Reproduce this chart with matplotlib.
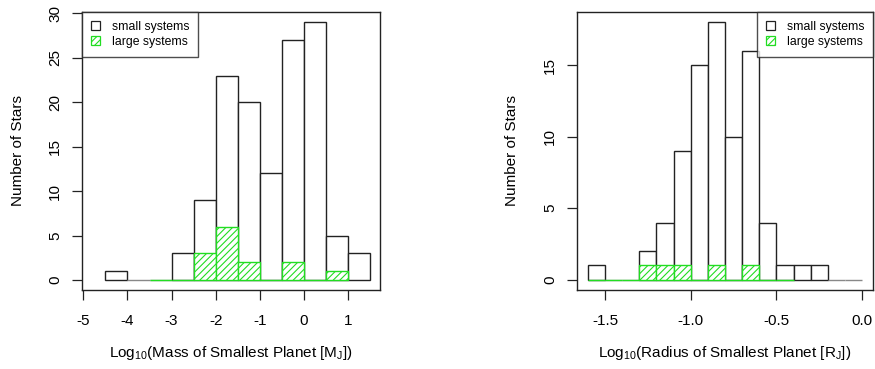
import matplotlib
matplotlib.use('Agg')
import matplotlib.pyplot as plt
from matplotlib.patches import Patch
import numpy as np

plt.rcParams['font.family'] = ['Liberation Sans', 'DejaVu Sans']
plt.rcParams['mathtext.fontset'] = 'custom'
plt.rcParams['mathtext.rm'] = 'Liberation Sans'
plt.rcParams['mathtext.it'] = 'Liberation Sans:italic'
plt.rcParams['hatch.linewidth'] = 0.8
plt.rcParams['hatch.color'] = '#22dd22'

# ---- data ----
mass_edges = [-4.5, -4.0, -3.5, -3.0, -2.5, -2.0, -1.5, -1.0, -0.5, 0.0, 0.5, 1.0, 1.5]
mass_small = [1, 0, 0, 3, 9, 23, 20, 12, 27, 29, 5, 3]
mass_large_edges = [-3.5, -3.0, -2.5, -2.0, -1.5, -1.0, -0.5, 0.0, 0.5, 1.0]
mass_large = [0, 0, 3, 6, 2, 0, 2, 0, 1]

radius_edges = [-1.6, -1.5, -1.4, -1.3, -1.2, -1.1, -1.0, -0.9, -0.8, -0.7,
                -0.6, -0.5, -0.4, -0.3, -0.2, -0.1, 0.0]
radius_small = [1, 0, 0, 2, 4, 9, 15, 18, 10, 16, 4, 1, 1, 1, 0, 0]
radius_large_edges = [-1.6, -1.5, -1.4, -1.3, -1.2, -1.1, -1.0, -0.9, -0.8, -0.7,
                      -0.6, -0.5, -0.4]
radius_large = [0, 0, 0, 1, 1, 1, 0, 1, 0, 1, 0, 0]

mass_xticks = [-5, -4, -3, -2, -1, 0, 1]
mass_xticklabels = ['-5', '-4', '-3', '-2', '-1', '0', '1']
mass_yticks = [0, 5, 10, 15, 20, 25, 30]
radius_xticks = [-1.5, -1.0, -0.5, 0.0]
radius_xticklabels = ['-1.5', '-1.0', '-0.5', '0.0']
radius_yticks = [0, 5, 10, 15]

legend_labels = ['small systems', 'large systems']
ylabel = 'Number of Stars'
mass_xlabel = r'Log$_{\mathregular{10}}$(Mass of Smallest Planet [M$_{\mathregular{J}}$])'
radius_xlabel = r'Log$_{\mathregular{10}}$(Radius of Smallest Planet [R$_{\mathregular{J}}$])'

GREEN = '#22dd22'
DARK = '#222222'
W, H = 875, 369

fig = plt.figure(figsize=(W / 100, H / 100), dpi=100)

def px_axes(l, r, t, b):
    return fig.add_axes([l / W, 1 - b / H, (r - l) / W, (b - t) / H])

ax1 = px_axes(82, 380, 12, 290)
ax2 = px_axes(577, 873, 12, 290)


def draw_hist(ax, edges, small, ledges, large):
    e = np.asarray(edges)
    le = np.asarray(ledges)
    ecs = [DARK if v > 0 else '#888888' for v in small]
    ax.bar(e[:-1], small, width=np.diff(e), align='edge', facecolor='white',
           edgecolor=ecs, linewidth=1.0, zorder=2)
    ax.bar(le[:-1], large, width=np.diff(le), align='edge', facecolor='white',
           edgecolor=GREEN, hatch='/////', linewidth=1.0, zorder=3)


def style(ax, xlim, ylim, xticks, xticklabels, yticks, xlabel):
    ax.set_xlim(*xlim)
    ax.set_ylim(*ylim)
    ax.set_xticks(xticks)
    ax.set_xticklabels(xticklabels)
    ax.set_yticks(yticks)
    ax.set_yticklabels([str(v) for v in yticks], rotation=90, va='center')
    ax.tick_params(direction='out', length=7.2, width=0.9, color=DARK,
                   labelsize=11, colors='black')
    ax.tick_params(axis='x', pad=10)
    ax.tick_params(axis='y', pad=7)
    for s in ax.spines.values():
        s.set_linewidth(1.0)
        s.set_color(DARK)
    ax.set_xlabel(xlabel, fontsize=11)
    ax.xaxis.set_label_coords(0.5, -0.227)
    ax.xaxis.label.set_va('center')
    ax.set_ylabel(ylabel, fontsize=11)
    ax.yaxis.set_label_coords(-0.215, 0.5)
    ax.yaxis.label.set_va('center')


def add_legend(ax, loc):
    handles = [Patch(facecolor='white', edgecolor=DARK, linewidth=0.9),
               Patch(facecolor='white', edgecolor=GREEN, hatch='/////', linewidth=0.9)]
    leg = ax.legend(handles, legend_labels, loc=loc, fontsize=8.8, frameon=True,
                    fancybox=False, borderaxespad=0, handlelength=0.75,
                    handleheight=0.75, handletextpad=1.0, borderpad=0.7,
                    labelspacing=0.3)
    leg.get_frame().set_edgecolor(DARK)
    leg.get_frame().set_linewidth(1.0)
    leg.set_zorder(5)


draw_hist(ax1, mass_edges, mass_small, mass_large_edges, mass_large)
style(ax1, (-5.03, 1.72), (-1.13, 30.16), mass_xticks, mass_xticklabels,
      mass_yticks, mass_xlabel)
add_legend(ax1, 'upper left')

draw_hist(ax2, radius_edges, radius_small, radius_large_edges, radius_large)
style(ax2, (-1.664, 0.064), (-0.72, 18.72), radius_xticks, radius_xticklabels,
      radius_yticks, radius_xlabel)
ax2.yaxis.set_label_coords(-0.22, 0.5)
add_legend(ax2, 'upper right')

fig.savefig('out.png', dpi=100)
